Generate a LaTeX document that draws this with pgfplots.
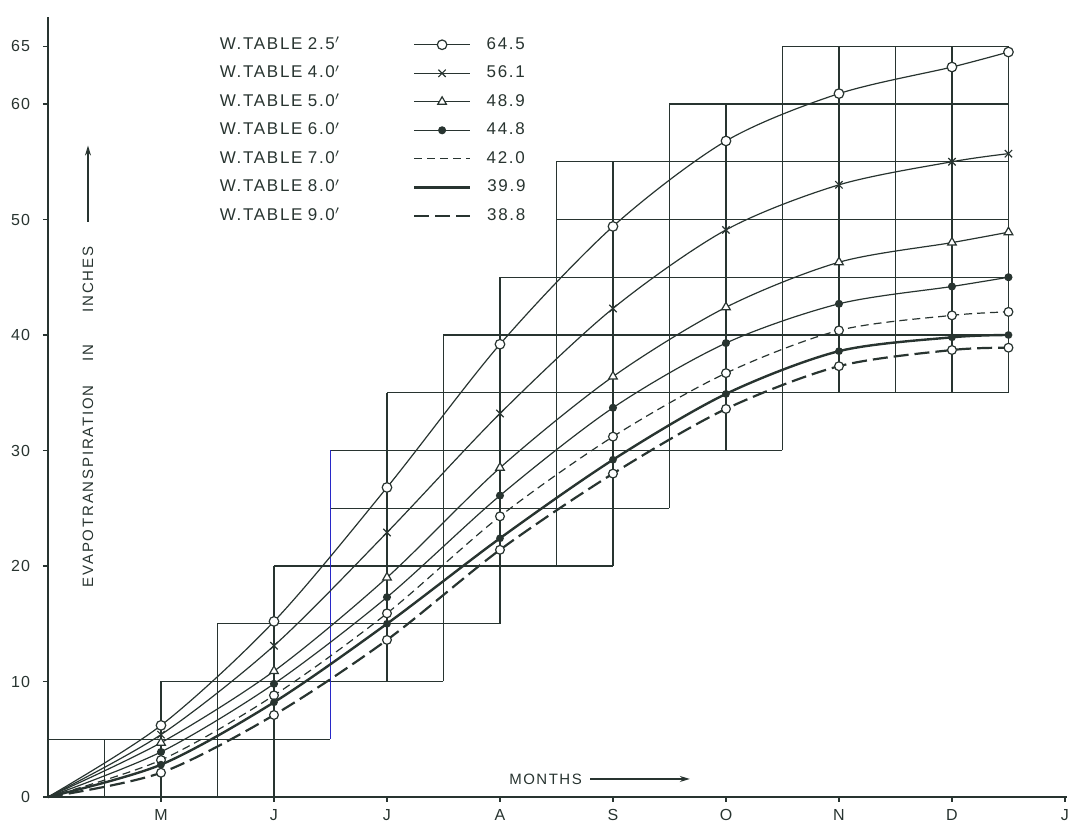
\documentclass[border=0pt]{standalone}
\usepackage{pgfplots}
\pgfplotsset{compat=1.18}
\usetikzlibrary{arrows.meta}
\usepackage{fontspec}
\setmainfont{Liberation Sans}
\definecolor{ink}{RGB}{40,52,48}
\definecolor{blueink}{RGB}{40,40,200}
\pgfplotsset{
  limg/.style={legend image code/.code={%
    \draw[##1, mark indices={2}] plot coordinates {(0pt,0pt) (14pt,0pt) (28pt,0pt)};
    \node[anchor=west,inner sep=0pt,text=ink] at (36pt,0pt) {#1};}},
  limgn/.style={legend image code/.code={%
    \draw[##1] (0pt,0pt) -- (28pt,0pt);
    \node[anchor=west,inner sep=0pt,text=ink] at (36pt,0pt) {#1};}},
}
\newcommand{\wt}[1]{\makebox[44pt][l]{W.TABLE}\makebox[51.5pt][l]{#1$'$}}
\begin{document}
\begin{tikzpicture}
\begin{axis}[
  scale only axis, width=509.6pt, height=389.8pt,
  xmin=0, xmax=9.02, ymin=0, ymax=67.5,
  axis x line=bottom, axis y line=left,
  axis line style={-, ink, line width=0.8pt},
  xtick={1,...,9}, xticklabels={M,J,J,A,S,O,N,D,J},
  ytick={0,10,20,30,40,50,60,65},
  tick style={ink, line width=0.6pt}, major tick length=2.5pt, tick align=outside,
  ticklabel style={font=\fontsize{8}{9}\selectfont\addfontfeature{LetterSpace=6}, text=ink},
  /pgf/number format/assume math mode=true,
  xticklabel style={yshift=0pt},
  yticklabel style={xshift=-3pt},
  clip=false,
  legend plot pos=right,
  legend cell align=left,
  legend style={at={(axis cs:1.5,66.0)}, anchor=north west, draw=none, fill=none,
    font=\fontsize{8.5}{9}\selectfont\addfontfeature{LetterSpace=10}, text=ink, row sep=4.6pt, inner sep=0pt,
    nodes={inner sep=1pt}},
]
% staircase grid
\addplot[ink, line width=0.7pt, unbounded coords=jump, forget plot] coordinates {
 (0.5,0) (0.5,5) (0.5,nan)
 (1,0) (1,10) (1,nan)
 (1.5,0) (1.5,15) (1.5,nan)
 (2,0) (2,20) (2,nan)
 (3,10) (3,35) (3,nan)
 (3.5,10) (3.5,40) (3.5,nan)
 (4,15) (4,45) (4,nan)
 (4.5,20) (4.5,55) (4.5,nan)
 (5,20) (5,55) (5,nan)
 (5.5,25) (5.5,60) (5.5,nan)
 (6,30) (6,60) (6,nan)
 (6.5,30) (6.5,65) (6.5,nan)
 (7,35) (7,65) (7,nan)
 (7.5,35) (7.5,65) (7.5,nan)
 (8,35) (8,65) (8,nan)
 (8.5,35) (8.5,65) (8.5,nan)
 (0,5) (2.5,5) (0,nan)
 (1,10) (3.5,10) (0,nan)
 (1.5,15) (4,15) (0,nan)
 (2,20) (5,20) (0,nan)
 (2.5,25) (5.5,25) (0,nan)
 (2.5,30) (6.5,30) (0,nan)
 (3,35) (8.5,35) (0,nan)
 (3.5,40) (8.5,40) (0,nan)
 (4,45) (8.5,45) (0,nan)
 (4.5,50) (8.5,50) (0,nan)
 (4.5,55) (8.5,55) (0,nan)
 (5.5,60) (8.5,60) (0,nan)
 (6.5,65) (8.5,65)
};
\addplot[blueink, line width=0.7pt, forget plot] coordinates {(2.5,5) (2.5,30)};

% W.TABLE 2.5
\addplot[ink, line width=0.6pt, smooth, mark=*, mark size=2.4pt, mark indices={2,...,10},
  mark options={fill=white, solid}, limg={64.5}] coordinates {
 (0,0) (1,6.2) (2,15.2) (3,26.8) (4,39.2) (5,49.4) (6,56.8) (7,60.9) (8,63.2) (8.5,64.5)};
\addlegendentry{\wt{2.5}}
% W.TABLE 4.0
\addplot[ink, line width=0.6pt, smooth, mark=x, mark size=2.6pt, mark indices={2,...,10},
  mark options={solid}, limg={56.1}] coordinates {
 (0,0) (1,5.4) (2,13.1) (3,22.9) (4,33.2) (5,42.3) (6,49.1) (7,53.0) (8,55.0) (8.5,55.7)};
\addlegendentry{\wt{4.0}}
% W.TABLE 5.0
\addplot[ink, line width=0.6pt, smooth, mark=triangle*, mark size=2.5pt, mark indices={2,...,10},
  mark options={fill=white, solid}, limg={48.9}] coordinates {
 (0,0) (1,4.7) (2,10.9) (3,19.0) (4,28.5) (5,36.4) (6,42.4) (7,46.3) (8,48.0) (8.5,48.9)};
\addlegendentry{\wt{5.0}}
% W.TABLE 6.0
\addplot[ink, line width=0.6pt, smooth, mark=*, mark size=1.7pt, mark indices={2,...,10},
  mark options={fill=ink, solid}, limg={44.8}] coordinates {
 (0,0) (1,3.9) (2,9.8) (3,17.3) (4,26.1) (5,33.7) (6,39.3) (7,42.7) (8,44.2) (8.5,45.0)};
\addlegendentry{\wt{6.0}}
% W.TABLE 7.0
\addplot[ink, line width=0.6pt, smooth, dash pattern=on 4pt off 2.5pt, mark=*, mark size=2.2pt,
  mark indices={2,...,10}, mark options={fill=white, solid}, limgn={42.0}] coordinates {
 (0,0) (1,3.2) (2,8.8) (3,15.9) (4,24.3) (5,31.2) (6,36.7) (7,40.4) (8,41.7) (8.5,42.0)};
\addlegendentry{\wt{7.0}}
% W.TABLE 8.0
\addplot[ink, line width=1.2pt, smooth, mark=*, mark size=1.3pt, mark indices={2,...,10},
  mark options={fill=ink, solid}, limgn={39.9}] coordinates {
 (0,0) (1,2.8) (2,8.2) (3,15.0) (4,22.4) (5,29.2) (6,34.9) (7,38.6) (8,39.8) (8.5,40.0)};
\addlegendentry{\wt{8.0}}
% W.TABLE 9.0
\addplot[ink, line width=1.1pt, smooth, dash pattern=on 7.5pt off 3pt, mark=*, mark size=2.2pt,
  mark indices={2,...,10}, mark options={fill=white, solid, line width=0.6pt}, limgn={38.8}] coordinates {
 (0,0) (1,2.1) (2,7.1) (3,13.6) (4,21.4) (5,28.0) (6,33.6) (7,37.3) (8,38.7) (8.5,38.9)};
\addlegendentry{\wt{9.0}}

% axis annotations
\node[rotate=90, font=\fontsize{7.5}{8}\selectfont\addfontfeature{LetterSpace=12}, text=ink] at (axis cs:0.354,32.9)
  {EVAPOTRANSPIRATION\hspace{12pt}IN\hspace{16pt}INCHES};
\draw[ink, line width=0.6pt, -{Stealth[length=5pt,width=3pt]}] (axis cs:0.354,49.8) -- (axis cs:0.354,56.4);
\node[font=\fontsize{7.5}{8}\selectfont\addfontfeature{LetterSpace=10}, text=ink, anchor=west] at (axis cs:4.02,1.56) {MONTHS};
\draw[ink, line width=0.6pt, -{Stealth[length=5pt,width=3pt]}] (axis cs:4.80,1.56) -- (axis cs:5.68,1.56);
\end{axis}
\pgfresetboundingbox
\useasboundingbox (-24pt,-12.5pt) rectangle (511pt,398.5pt);
\end{tikzpicture}
\end{document}
